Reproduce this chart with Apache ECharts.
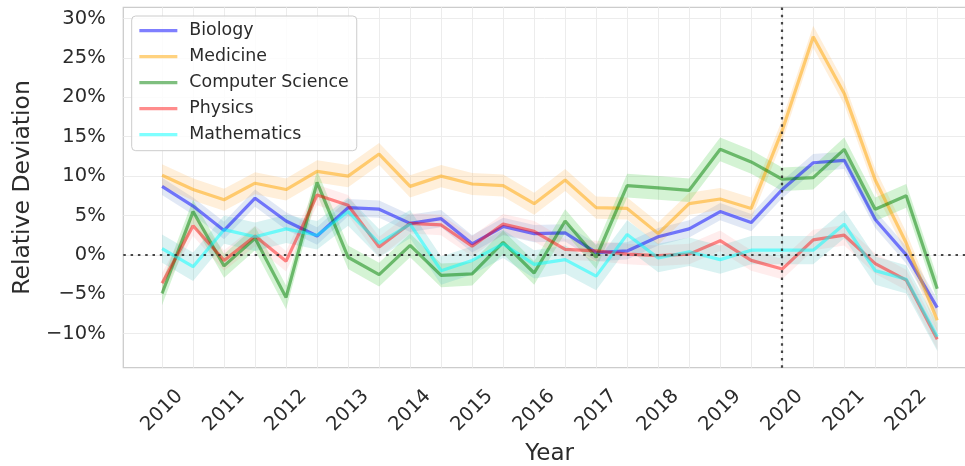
<!DOCTYPE html>
<html>
<head>
<meta charset="utf-8">
<script src="https://cdn.jsdelivr.net/npm/echarts@6/dist/echarts.min.js"></script>
<style>html,body{margin:0;padding:0;background:#fff;}#c{width:965px;height:466px;}</style>
</head>
<body>
<div id="c"></div>
<script>
// ---- data ----
var years = [2010, 2010.5, 2011, 2011.5, 2012, 2012.5, 2013, 2013.5, 2014, 2014.5, 2015, 2015.5, 2016, 2016.5, 2017, 2017.5, 2018, 2018.5, 2019, 2019.5, 2020, 2020.5, 2021, 2021.5, 2022, 2022.5];
var yearLabels = [2010, 2011, 2012, 2013, 2014, 2015, 2016, 2017, 2018, 2019, 2020, 2021, 2022];
var yTicks = [-10, -5, 0, 5, 10, 15, 20, 25, 30];
var seriesNames = ['Biology', 'Medicine', 'Computer Science', 'Physics', 'Mathematics'];
var biology     = [8.7, 6.2, 3.1, 7.2, 4.3, 2.4, 6.0, 5.8, 4.0, 4.6, 1.4, 3.6, 2.7, 2.8, 0.3, 0.5, 2.3, 3.3, 5.5, 4.1, 8.3, 11.7, 12.0, 4.5, 0.0, -6.7];
var medicine    = [10.1, 8.3, 7.0, 9.1, 8.3, 10.6, 10.0, 12.8, 8.7, 10.0, 9.0, 8.8, 6.5, 9.5, 6.0, 5.9, 2.7, 6.5, 7.1, 5.9, 15.8, 27.7, 20.5, 9.5, 1.5, -8.3];
var compSci     = [-4.9, 5.5, -1.4, 2.1, -5.4, 9.2, -0.3, -2.5, 1.2, -2.6, -2.4, 1.6, -2.3, 4.3, -0.3, 8.8, 8.5, 8.2, 13.4, 11.8, 9.6, 9.8, 13.4, 5.8, 7.5, -4.3];
var physics     = [-3.6, 3.7, -0.7, 2.4, -0.8, 7.6, 6.3, 1.0, 4.0, 3.8, 1.1, 3.9, 3.0, 0.7, 0.5, 0.1, -0.1, 0.1, 1.8, -0.7, -1.8, 1.9, 2.5, -1.1, -3.2, -10.7];
var mathematics = [0.8, -1.5, 3.2, 2.3, 3.3, 2.5, 5.5, 1.5, 3.9, -2.0, -0.7, 1.4, -1.2, -0.6, -2.7, 2.6, -0.4, 0.4, -0.6, 0.6, 0.6, 0.6, 3.9, -2.0, -3.1, -10.4];
var bandHalfWidth = [1.1, 1.4, 1.5, 1.3, 1.8];

// ---- style ----
var allValues = [biology, medicine, compSci, physics, mathematics];
var lineColors = ['rgba(0,0,255,0.5)', 'rgba(255,165,0,0.5)', 'rgba(0,128,0,0.5)', 'rgba(255,0,0,0.45)', 'rgba(0,255,255,0.5)'];
var bandColors = ['rgba(90,130,200,0.18)', 'rgba(255,175,70,0.2)', 'rgba(60,200,60,0.22)', 'rgba(255,110,110,0.12)', 'rgba(70,190,190,0.2)'];
var FONT = 'DejaVu Sans';
var TXT = '#2b2b2b';

var series = [];
allValues.forEach(function (vals, k) {
  var hw = bandHalfWidth[k];
  series.push({
    type: 'custom',
    name: seriesNames[k] + ' band',
    z: 1,
    clip: true,
    silent: true,
    data: years.map(function (x, i) { return [x, vals[i] - hw, vals[i] + hw]; }),
    encode: { x: 0, y: [1, 2] },
    renderItem: function (params, api) {
      if (params.dataIndex !== 0) return null;
      var pts = [];
      for (var i = 0; i < years.length; i++) pts.push(api.coord([years[i], vals[i] + hw]));
      for (var j = years.length - 1; j >= 0; j--) pts.push(api.coord([years[j], vals[j] - hw]));
      return { type: 'polygon', shape: { points: pts }, style: { fill: bandColors[k] } };
    }
  });
});
allValues.forEach(function (vals, k) {
  series.push({
    type: 'line',
    name: seriesNames[k],
    z: 3,
    symbol: 'none',
    showSymbol: false,
    color: lineColors[k],
    lineStyle: { width: 3.2, color: lineColors[k] },
    data: years.map(function (x, i) { return [x, vals[i]]; })
  });
});
series.push({
  type: 'line',
  name: 'refs',
  z: 10,
  data: [],
  markLine: {
    silent: true,
    symbol: 'none',
    label: { show: false },
    lineStyle: { color: 'rgba(40,40,40,0.85)', width: 2.2, type: [2.5, 4.8] },
    data: [{ yAxis: 0 }, { xAxis: 2020 }]
  }
});

var chart = echarts.init(document.getElementById('c'), null, { renderer: 'canvas' });
chart.setOption({
  animation: false,
  backgroundColor: '#ffffff',
  textStyle: { fontFamily: FONT },
  grid: {
    left: 123.3, top: 7.3, right: -11, bottom: 98.3,
    containLabel: false, outerBoundsMode: 'none',
    show: true, borderColor: '#cccccc', borderWidth: 1.3, backgroundColor: 'transparent'
  },
  legend: {
    orient: 'vertical',
    left: 131.7, top: 16,
    padding: [5.7, 8, 7, 6],
    itemGap: 8,
    itemWidth: 38,
    itemHeight: 18,
    data: seriesNames,
    backgroundColor: 'rgba(255,255,255,0.85)',
    borderColor: '#cccccc',
    borderWidth: 1,
    borderRadius: 4,
    itemStyle: { opacity: 0 },
    lineStyle: { width: 3.3, opacity: 1 },
    textStyle: { fontFamily: FONT, fontSize: 17.4, color: TXT, lineHeight: 18, padding: [0, 0, 0, 7] }
  },
  xAxis: {
    type: 'value',
    min: 2009.375,
    max: 2023.125,
    name: 'Year',
    nameLocation: 'middle',
    nameGap: 71,
    nameTextStyle: { fontFamily: FONT, fontSize: 23, color: TXT },
    axisLine: { show: false },
    axisTick: { show: false, customValues: years },
    splitLine: { show: true, lineStyle: { color: '#ececec', width: 1 } },
    axisLabel: {
      customValues: yearLabels,
      rotate: 45,
      align: 'center',
      verticalAlign: 'middle',
      margin: 43,
      fontFamily: FONT,
      fontSize: 19.5,
      color: TXT,
      formatter: function (v) { return String(Math.round(v)); }
    }
  },
  yAxis: {
    type: 'value',
    min: -14.32,
    max: 31.43,
    name: 'Relative Deviation',
    nameLocation: 'middle',
    nameGap: 87,
    nameTextStyle: { fontFamily: FONT, fontSize: 23.5, color: TXT },
    axisLine: { show: false },
    axisTick: { show: false, customValues: yTicks },
    splitLine: { show: true, lineStyle: { color: '#ececec', width: 1 } },
    axisLabel: {
      customValues: yTicks,
      margin: 17.6,
      fontFamily: FONT,
      fontSize: 19.5,
      color: TXT,
      formatter: function (v) { var r = Math.round(v); return (r < 0 ? '\u2212' + Math.abs(r) : String(r)) + '%'; }
    }
  },
  series: series
});
</script>
</body>
</html>
